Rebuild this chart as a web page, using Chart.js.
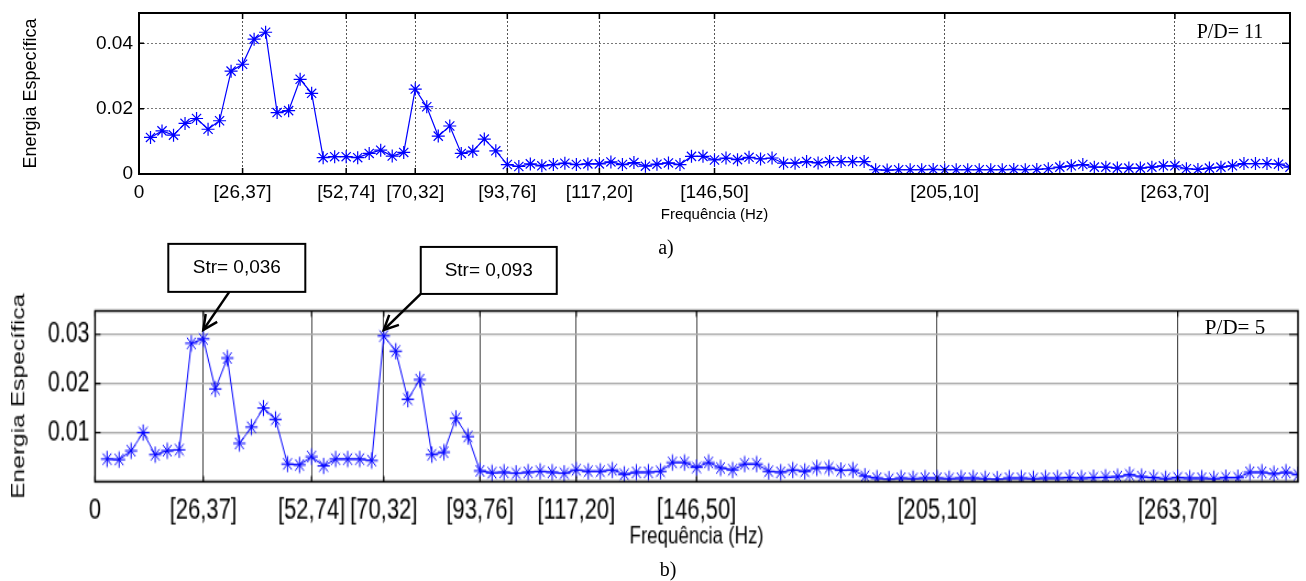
<!DOCTYPE html>
<html><head><meta charset="utf-8">
<script src="https://cdn.jsdelivr.net/npm/chart.js@4.4.0/dist/chart.umd.min.js"></script>
<style>
html,body{margin:0;padding:0;background:#fff;width:1306px;height:581px;overflow:hidden}
canvas{position:absolute;left:0}
#c1{top:0}
#c2{top:232px;transform:scale(1.1,1.448);transform-origin:0 0}
#c3{top:0;pointer-events:none}
</style></head><body>
<canvas id="c1" width="1306" height="262"></canvas>
<canvas id="c2" width="1187" height="241"></canvas>
<canvas id="c3" width="1306" height="581"></canvas>
<script>
// Frequency bins (Hz)
const frequencies = [2.93,5.86,8.79,11.72,14.65,17.58,20.51,23.44,26.37,29.30,32.23,35.16,38.09,41.02,43.95,46.88,49.81,52.74,55.67,58.60,
61.53,64.46,67.39,70.32,73.25,76.18,79.11,82.04,84.97,87.90,90.83,93.76,96.69,99.62,102.55,105.48,108.41,111.34,114.27,117.20,
120.13,123.06,125.99,128.92,131.85,134.78,137.71,140.64,143.57,146.50,149.43,152.36,155.29,158.22,161.15,164.08,167.01,169.94,172.87,175.80,
178.73,181.66,184.59,187.52,190.45,193.38,196.31,199.24,202.17,205.10,208.03,210.96,213.89,216.82,219.75,222.68,225.61,228.54,231.47,234.40,
237.33,240.26,243.19,246.12,249.05,251.98,254.91,257.84,260.77,263.70,266.63,269.56,272.49,275.42,278.35,281.28,284.21,287.14,290.07,293.00];

// Energia Específica, P/D = 11
const energyPD11 = [0.0112,0.0132,0.0119,0.0155,0.0170,0.0137,0.0163,0.0315,0.0336,0.0413,
0.0434,0.0188,0.0194,0.0290,0.0247,0.0050,0.0053,0.0053,0.0050,0.0063,
0.0073,0.0055,0.0066,0.0260,0.0206,0.0116,0.0147,0.0063,0.0070,0.0107,
0.0071,0.0029,0.0023,0.0031,0.0025,0.0029,0.0033,0.0029,0.0031,0.0031,
0.0037,0.0029,0.0035,0.0024,0.0030,0.0034,0.0029,0.0054,0.0054,0.0043,
0.0049,0.0044,0.0051,0.0046,0.0049,0.0033,0.0033,0.0038,0.0034,0.0038,
0.0038,0.0038,0.0038,0.0013,0.0012,0.0013,0.0013,0.0013,0.0014,0.0013,
0.0013,0.0013,0.0013,0.0013,0.0013,0.0014,0.0013,0.0014,0.0016,0.0021,
0.0025,0.0029,0.0021,0.0021,0.0018,0.0018,0.0018,0.0021,0.0025,0.0025,
0.0016,0.0014,0.0018,0.0021,0.0025,0.0032,0.0032,0.0032,0.0030,0.0021];

// Energia Específica, P/D = 5
const energyPD5 = [0.0046,0.0045,0.0063,0.0100,0.0055,0.0063,0.0065,0.0282,0.0291,0.0189,
0.0252,0.0078,0.0111,0.0150,0.0127,0.0036,0.0034,0.0051,0.0032,0.0046,
0.0046,0.0046,0.0043,0.0297,0.0266,0.0168,0.0208,0.0055,0.0060,0.0129,
0.0092,0.0022,0.0018,0.0019,0.0017,0.0019,0.0021,0.0019,0.0017,0.0024,
0.0021,0.0021,0.0024,0.0015,0.0019,0.0019,0.0021,0.0039,0.0039,0.0029,
0.0039,0.0028,0.0024,0.0036,0.0036,0.0021,0.0019,0.0024,0.0021,0.0028,
0.0028,0.0023,0.0024,0.0011,0.0007,0.0005,0.0007,0.0006,0.0007,0.0007,
0.0006,0.0007,0.0007,0.0006,0.0005,0.0007,0.0007,0.0006,0.0007,0.0007,
0.0008,0.0007,0.0008,0.0009,0.0010,0.0014,0.0010,0.0008,0.0006,0.0008,
0.0007,0.0007,0.0006,0.0008,0.0008,0.0019,0.0019,0.0016,0.0019,0.0014];

const xTickValues = [0, 26.37, 52.74, 70.32, 93.76, 117.20, 146.50, 205.10, 263.70];
const xTickLabels = ['0','[26,37]','[52,74]','[70,32]','[93,76]','[117,20]','[146,50]','[205,10]','[263,70]'];
const yTicksPD11 = [0, 0.02, 0.04];
const yTickLabelsPD11 = ['0','0.02','0.04'];
const yTicksPD5 = [0.01, 0.02, 0.03];
const yTickLabelsPD5 = ['0.01','0.02','0.03'];
const strLabels = ['Str= 0,036','Str= 0,093'];
const strPointIndex = [8, 23];

const SANS = "'Liberation Sans', Arial, sans-serif";
const SERIF = "'Liberation Serif', 'Times New Roman', serif";

const framePlugin = {
  id: 'frame',
  afterDraw(chart, args, o) {
    const {ctx, chartArea: a, scales} = chart;
    ctx.save();
    ctx.strokeStyle = '#000';
    // inward tick marks
    ctx.lineWidth = o.tickWidth;
    o.yTicks.forEach(v => {
      const y = scales.y.getPixelForValue(v);
      ctx.beginPath();
      ctx.moveTo(a.left, y); ctx.lineTo(a.left + 5, y);
      ctx.moveTo(a.right - 8, y); ctx.lineTo(a.right, y);
      ctx.stroke();
    });
    xTickValues.forEach(v => {
      const x = scales.x.getPixelForValue(v);
      ctx.beginPath();
      ctx.moveTo(x, a.top); ctx.lineTo(x, a.top + o.xTickLen);
      ctx.moveTo(x, a.bottom); ctx.lineTo(x, a.bottom - o.xTickLen);
      ctx.stroke();
    });
    // box
    ctx.lineWidth = o.frameWidth;
    ctx.strokeRect(a.left, a.top, a.right - a.left, a.bottom - a.top);
    ctx.restore();

    // unstretched overlay texts / annotations
    const t = o.overlayId ? document.getElementById(o.overlayId).getContext('2d') : ctx;
    const M = o.map;
    const X = v => M.ox + v * M.sx, Y = v => M.oy + v * M.sy;
    t.save();
    t.fillStyle = '#000';
    t.strokeStyle = '#000';
    t.font = o.pdFont;
    t.textAlign = 'center';
    t.textBaseline = 'alphabetic';
    t.fillText(o.pdText, o.pdX, Y(a.top) + o.pdDy);
    t.font = '20px ' + SERIF;
    t.textBaseline = 'middle';
    t.fillText(o.sub, o.subX, o.subY);
    (o.notes || []).forEach(n => {
      const ds = chart.data.datasets[0].data[n.index];
      const tx = X(scales.x.getPixelForValue(ds.x));
      const ty = Y(scales.y.getPixelForValue(ds.y)) + n.tipDy;
      const bx = tx + n.boxDx, by = ty + n.boxDy;
      t.fillStyle = '#fff';
      t.fillRect(bx, by, n.w, n.h);
      t.lineWidth = 2;
      t.strokeRect(bx, by, n.w, n.h);
      t.fillStyle = '#000';
      t.font = '19px ' + SANS;
      t.textAlign = 'center';
      t.textBaseline = 'middle';
      t.fillText(n.text, bx + n.w / 2, by + n.h / 2);
      const sx = tx + n.startDx, sy = by + n.h;
      t.lineWidth = 2.5;
      t.beginPath();
      t.moveTo(sx, sy); t.lineTo(tx, ty);
      t.stroke();
      const ang = Math.atan2(ty - sy, tx - sx);
      const L = 16, sp = 0.45;
      t.beginPath();
      t.moveTo(tx - L * Math.cos(ang - sp), ty - L * Math.sin(ang - sp));
      t.lineTo(tx, ty);
      t.lineTo(tx - L * Math.cos(ang + sp), ty - L * Math.sin(ang + sp));
      t.stroke();
    });
    t.restore();
  }
};

function makeChart(id, c) {
  return new Chart(document.getElementById(id), {
    type: 'line',
    data: {
      datasets: [{
        data: frequencies.map((f, i) => ({x: f, y: c.values[i]})),
        borderColor: '#0000ff', borderWidth: c.lineWidth,
        pointStyle: 'star', pointRadius: c.pointRadius,
        pointBorderColor: '#0000ff', pointBackgroundColor: '#0000ff', pointBorderWidth: c.lineWidth,
        tension: 0, fill: false
      }]
    },
    options: {
      responsive: false, animation: false, devicePixelRatio: 1, events: [],
      layout: {padding: {left: 0, right: c.padRight, top: c.padTop, bottom: 0}},
      plugins: {legend: {display: false}, tooltip: {enabled: false}, frame: c.frame},
      scales: {
        x: {
          type: 'linear', min: 0, max: 293,
          afterBuildTicks: s => { s.ticks = xTickValues.map(v => ({value: v})); },
          afterFit: s => { s.height = c.xHeight; s.paddingLeft = 0; s.paddingRight = 0; },
          ticks: {autoSkip: false, maxRotation: 0, minRotation: 0, padding: c.xTickPad, color: '#000',
                  font: {family: SANS, size: c.tickSize}, callback: (v, i) => xTickLabels[i]},
          grid: {drawTicks: false, color: c.xGridColor, lineWidth: 1},
          border: {display: false, dash: c.xDash},
          title: {display: true, text: 'Frequência (Hz)', color: '#000',
                  font: {family: SANS, size: c.xTitleSize}, padding: {top: 0, bottom: c.xTitlePad}}
        },
        y: {
          type: 'linear', min: c.yMin, max: c.yMax,
          afterBuildTicks: s => { s.ticks = c.yTicks.map(v => ({value: v})); },
          afterFit: s => { s.width = c.yWidth; s.paddingTop = 0; s.paddingBottom = 0; },
          ticks: {padding: c.yTickPad, color: '#000', font: {family: SANS, size: c.yTickSize},
                  callback: (v, i) => c.yLabels[i]},
          grid: {drawTicks: false, color: c.yGridColor, lineWidth: c.yGridWidth},
          border: {display: false, dash: c.yDash},
          title: {display: true, text: 'Energia Específica', color: '#000',
                  font: {family: SANS, size: c.yTitleSize}, padding: {top: c.yTitlePad, bottom: 0}}
        }
      }
    },
    plugins: [framePlugin]
  });
}

makeChart('c1', {
  values: energyPD11, lineWidth: 1.2, pointRadius: 6.5,
  padRight: 16, padTop: 13, xHeight: 88, xTickPad: 7, tickSize: 19,
  xGridColor: '#555', xDash: [2, 2], xTitleSize: 15, xTitlePad: 38,
  yMin: 0, yMax: 0.0493, yTicks: yTicksPD11, yLabels: yTickLabelsPD11, yWidth: 139, yTickSize: 19, yTickPad: 6,
  yGridColor: '#777', yGridWidth: 1, yDash: [2, 2], yTitleSize: 18, yTitlePad: 20,
  frame: {yTicks: yTicksPD11, tickWidth: 1.5, xTickLen: 6, frameWidth: 2,
          map: {sx: 1, sy: 1, ox: 0, oy: 0},
          pdText: 'P/D= 11', pdFont: '20px ' + SERIF, pdX: 1230, pdDy: 25,
          sub: 'a)', subX: 666, subY: 249, notes: []}
});

makeChart('c2', {
  values: energyPD5, lineWidth: 1, pointRadius: 5.6,
  padRight: 7, padTop: 54.5, xHeight: 68.6, xTickPad: 8, tickSize: 20,
  xGridColor: '#444', xDash: [], xTitleSize: 17, xTitlePad: 20,
  yMin: 0, yMax: 0.0348, yTicks: yTicksPD5, yLabels: yTickLabelsPD5, yWidth: 86.4, yTickSize: 19.5, yTickPad: 5,
  yGridColor: '#aaa', yGridWidth: 1.2, yDash: [], yTitleSize: 17, yTitlePad: 7,
  frame: {yTicks: yTicksPD5, tickWidth: 1.2, xTickLen: 4, frameWidth: 1.5,
          overlayId: 'c3', map: {sx: 1.1, sy: 1.448, ox: 0, oy: 232},
          pdText: 'P/D= 5', pdFont: '21px ' + SERIF, pdX: 1235, pdDy: 23,
          sub: 'b)', subX: 668, subY: 571,
          notes: [
            {index: strPointIndex[0], text: strLabels[0], tipDy: -9, boxDx: -35, boxDy: -86, w: 137, h: 48, startDx: 26},
            {index: strPointIndex[1], text: strLabels[1], tipDy: -6, boxDx: 37, boxDy: -83, w: 136, h: 47, startDx: 37}
          ]}
});
</script>
</body></html>
